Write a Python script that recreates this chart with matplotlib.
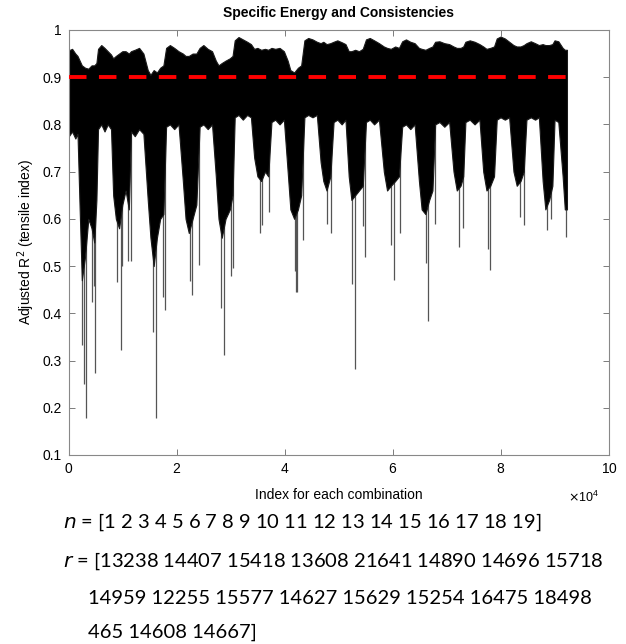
"""Adjusted R^2 of every combination (specific energy and consistencies)."""

import matplotlib
matplotlib.use("Agg")
import matplotlib.pyplot as plt
import numpy as np

# Envelope of the dense trace (index in units of 1e4)
ENV_X = [0.00, 0.06, 0.12, 0.16,
         0.20, 0.24, 0.30, 0.36, 0.42, 0.47, 0.51,
         0.54, 0.60, 0.66, 0.72, 0.78,
         0.82, 0.87, 0.93, 0.99, 1.05, 1.11,
         1.15, 1.22, 1.30, 1.38,
         1.46, 1.51, 1.57, 1.63, 1.69, 1.75,
         1.80, 1.87, 1.95, 2.03,
         2.11, 2.16, 2.22, 2.29, 2.36,
         2.42, 2.49, 2.57, 2.65,
         2.72, 2.77, 2.83, 2.90, 2.98, 3.03,
         3.07, 3.14, 3.22, 3.30, 3.37,
         3.43, 3.49, 3.56, 3.63, 3.69,
         3.75, 3.82, 3.90, 3.98,
         4.05, 4.10, 4.17, 4.24, 4.30,
         4.36, 4.43, 4.51, 4.59,
         4.66, 4.71, 4.77, 4.84,
         4.90, 4.97, 5.05, 5.12,
         5.18, 5.23, 5.30, 5.37, 5.44,
         5.50, 5.57, 5.65, 5.74,
         5.83, 5.89, 5.96, 6.04, 6.11,
         6.17, 6.24, 6.32, 6.40,
         6.48, 6.53, 6.60, 6.67, 6.73,
         6.78, 6.86, 6.95, 7.04,
         7.12, 7.18, 7.25, 7.30,
         7.34, 7.42, 7.51, 7.60,
         7.67, 7.73, 7.80, 7.87,
         7.92, 7.99, 8.07, 8.15,
         8.23, 8.29, 8.36, 8.42,
         8.47, 8.55, 8.63, 8.70,
         8.77, 8.82, 8.89, 8.95,
         8.99, 9.06,
         9.14, 9.18, 9.22]
ENV_UPPER = [0.957, 0.960, 0.950, 0.945,
             0.935, 0.925, 0.920, 0.918, 0.925, 0.925, 0.930,
             0.960, 0.968, 0.962, 0.955, 0.948,
             0.940, 0.945, 0.950, 0.955, 0.955, 0.950,
             0.955, 0.958, 0.962, 0.950,
             0.915, 0.905, 0.915, 0.910, 0.920, 0.925,
             0.962, 0.968, 0.962, 0.955,
             0.950, 0.945, 0.945, 0.950, 0.950,
             0.962, 0.968, 0.960, 0.955,
             0.935, 0.925, 0.930, 0.935, 0.940, 0.945,
             0.978, 0.985, 0.980, 0.975, 0.970,
             0.960, 0.962, 0.958, 0.960, 0.958,
             0.962, 0.960, 0.962, 0.955,
             0.935, 0.915, 0.910, 0.920, 0.925,
             0.978, 0.983, 0.980, 0.975,
             0.972, 0.975, 0.970, 0.972,
             0.975, 0.978, 0.974, 0.970,
             0.955, 0.955, 0.958, 0.955, 0.960,
             0.980, 0.983, 0.978, 0.972,
             0.965, 0.962, 0.960, 0.965, 0.962,
             0.976, 0.980, 0.975, 0.972,
             0.962, 0.960, 0.958, 0.962, 0.965,
             0.975, 0.976, 0.972, 0.970,
             0.965, 0.962, 0.962, 0.965,
             0.975, 0.978, 0.975, 0.970,
             0.965, 0.960, 0.962, 0.965,
             0.982, 0.986, 0.982, 0.975,
             0.968, 0.965, 0.965, 0.968,
             0.972, 0.976, 0.972, 0.968,
             0.970, 0.968, 0.968, 0.970,
             0.978, 0.976,
             0.962, 0.958, 0.958]
ENV_LOWER = [0.775, 0.785, 0.770, 0.780,
             0.620, 0.470, 0.520, 0.600, 0.580, 0.550, 0.640,
             0.790, 0.800, 0.785, 0.800, 0.790,
             0.650, 0.600, 0.580, 0.630, 0.660, 0.620,
             0.785, 0.775, 0.790, 0.780,
             0.640, 0.560, 0.500, 0.560, 0.600, 0.610,
             0.795, 0.800, 0.790, 0.800,
             0.680, 0.600, 0.570, 0.600, 0.630,
             0.795, 0.800, 0.790, 0.800,
             0.690, 0.600, 0.560, 0.600, 0.620, 0.650,
             0.815, 0.820, 0.810, 0.820, 0.815,
             0.730, 0.690, 0.680, 0.700, 0.690,
             0.805, 0.810, 0.800, 0.810,
             0.700, 0.620, 0.600, 0.620, 0.650,
             0.815, 0.820, 0.815, 0.820,
             0.720, 0.680, 0.660, 0.690,
             0.805, 0.810, 0.800, 0.810,
             0.690, 0.640, 0.650, 0.660, 0.670,
             0.805, 0.810, 0.800, 0.810,
             0.700, 0.660, 0.670, 0.680, 0.690,
             0.795, 0.800, 0.790, 0.800,
             0.680, 0.620, 0.610, 0.640, 0.660,
             0.800, 0.805, 0.795, 0.805,
             0.700, 0.660, 0.670, 0.690,
             0.805, 0.810, 0.800, 0.810,
             0.700, 0.660, 0.670, 0.690,
             0.810, 0.815, 0.810, 0.815,
             0.700, 0.670, 0.680, 0.700,
             0.810, 0.815, 0.810, 0.815,
             0.680, 0.620, 0.640, 0.670,
             0.810, 0.805,
             0.690, 0.620, 0.620]

# Isolated deep drops below the envelope
SPIKE_X = [0.25, 0.28, 0.31, 0.43, 0.46, 0.49, 0.89, 0.96, 0.99, 1.09, 1.15,
           1.55, 1.61, 1.75, 1.78, 2.24, 2.28, 2.41, 2.82, 2.87, 3.01, 3.04,
           3.54, 3.57, 3.71, 4.19, 4.21, 4.23, 4.34, 4.77, 4.86, 5.25, 5.30,
           5.44, 5.49, 5.96, 6.01, 6.13, 6.61, 6.64, 6.78, 7.22, 7.29, 7.75,
           7.80, 8.35, 8.42, 8.85, 8.92, 9.20]
SPIKE_MIN = [0.333, 0.250, 0.178, 0.424, 0.457, 0.273, 0.466, 0.322, 0.500, 0.510, 0.510,
             0.361, 0.178, 0.435, 0.407, 0.468, 0.439, 0.502, 0.411, 0.311, 0.478, 0.495,
             0.569, 0.587, 0.615, 0.490, 0.446, 0.446, 0.555, 0.590, 0.569, 0.463, 0.283,
             0.584, 0.520, 0.545, 0.470, 0.569, 0.506, 0.384, 0.590, 0.541, 0.580, 0.537,
             0.492, 0.604, 0.587, 0.577, 0.600, 0.562]

THRESHOLD = 0.9
N_LABEL = "[1 2 3 4 5 6 7 8 9 10 11 12 13 14 15 16 17 18 19]"
R_LINES = ["[13238 14407 15418 13608 21641 14890 14696 15718",
           "14959 12255 15577 14627 15629 15254 16475 18498",
           "465 14608 14667]"]

plt.rcParams["font.family"] = ["Liberation Sans", "DejaVu Sans"]

fig = plt.figure(figsize=(6.26, 6.44), dpi=100)
ax = fig.add_axes([0.110, 0.2935, 0.863, 0.660])

x = np.array(ENV_X) * 1e4
sx = np.array(SPIKE_X) * 1e4
ax.vlines(sx, SPIKE_MIN, 0.8, color="#555555", linewidth=0.9, zorder=1)
ax.fill_between(x, ENV_LOWER, ENV_UPPER, color="black",
                linewidth=0.8, edgecolor="#1a1a1a", zorder=2)
ax.plot([0, x[-1]], [THRESHOLD, THRESHOLD], color="red", linewidth=2.8,
        dashes=(4.5, 3.2), zorder=3)

ax.set_xlim(0, 1e5)
ax.set_ylim(0.1, 1.0)
ax.set_xticks(np.arange(0, 100001, 20000))
ax.set_yticks(np.arange(0.1, 1.01, 0.1))
ax.set_yticklabels(["0.1", "0.2", "0.3", "0.4", "0.5", "0.6", "0.7", "0.8", "0.9", "1"])
ax.ticklabel_format(axis="x", style="sci", scilimits=(4, 4), useMathText=True)
ax.xaxis.get_offset_text().set_visible(False)
ax.tick_params(direction="in", top=True, right=True, length=4, width=0.6,
               color="#666666", labelsize=10, pad=5)
for s in ax.spines.values():
    s.set_color("#888888")
    s.set_linewidth(0.8)

ax.set_title("Specific Energy and Consistencies", fontsize=10, fontweight="bold", pad=9)
ax.set_xlabel("Index for each combination", fontsize=10, labelpad=9)
ax.set_ylabel("Adjusted R$^2$ (tensile index)", fontsize=10, labelpad=4)
fig.text(584 / 626, 1 - 497 / 644, r"$\times\mathregular{10^4}$", fontsize=9,
         ha="center", va="center")

# Caption below the axes
cap = dict(fontsize=14.5, family="Lato", va="center", ha="left")
fig.text(63 / 626, 1 - 522 / 644, "$n$ = " + N_LABEL, **cap)
fig.text(63 / 626, 1 - 561 / 644, "$r$ = " + R_LINES[0], **cap)
fig.text(88 / 626, 1 - 598 / 644, R_LINES[1], **cap)
fig.text(88 / 626, 1 - 632 / 644, R_LINES[2], **cap)

fig.savefig("out.png", dpi=100)
